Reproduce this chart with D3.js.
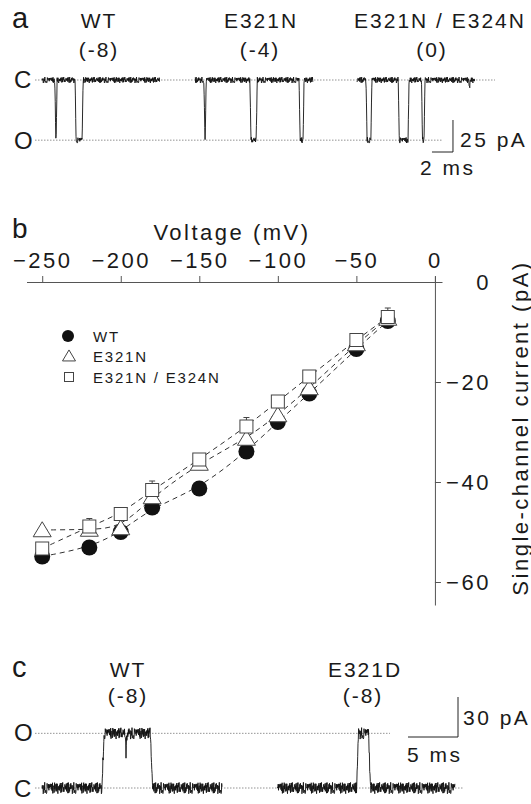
<!DOCTYPE html>
<html><head><meta charset="utf-8">
<script src="https://cdn.jsdelivr.net/npm/d3@7"></script>
<style>
body{margin:0;background:#fff}
svg{display:block}
text{font-family:"Liberation Sans",Arial,sans-serif;fill:#1a1a1a}
</style>
</head><body>
<svg id="fig" width="531" height="804"></svg>
<script>
// ---------- Panel b data ----------
const voltages = [-250,-220,-200,-180,-150,-120,-100,-80,-50,-30];
const wtCurrent = [-54.9,-53.1,-50.0,-45.1,-41.3,-33.9,-28.0,-22.3,-13.4,-7.8];
const e321nCurrent = [-49.6,-49.5,-49.2,-43.0,-36.3,-31.3,-26.6,-21.2,-12.4,-7.3];
const e321nE324nCurrent = [-53.3,-48.9,-46.4,-41.6,-35.5,-28.9,-23.9,-18.9,-11.6,-7.0];
const e321nE324nError = [0,1.6,0,1.8,0,1.8,0,0,0,1.8];
const xTickValues = [-250,-200,-150,-100,-50,0];
const yTickValues = [0,-20,-40,-60];
const seriesNames = ["WT","E321N","E321N / E324N"];

// ---------- Panel a data (times in ms, currents in pA) ----------
const traceATitles = ["WT","E321N","E321N / E324N"];
const traceAVoltages = ["(-8)","(-4)","(0)"];
const traceASpans = [[0,11.2],[14.6,25.8],[30.0,41.2]];
const traceAOpenings = [
  [[1.22,1.44,1],[3.15,3.92,1]],
  [[15.42,15.64,1],[19.8,20.5,1],[24.48,24.96,1]],
  [[30.86,31.42,1],[33.93,34.96,1],[36.14,36.48,1],[40.66,40.78,0.3]]
];
const traceAOpenCurrent = -47;
const scaleBarA = {ms:2, pA:25};

// ---------- Panel c data ----------
const traceCTitles = ["WT","E321D"];
const traceCVoltages = ["(-8)","(-8)"];
const traceCSpans = [[0,18],[23.5,41.3]];
const traceCOpenings = [[[6.0,11.05,1]],[[31.45,32.85,1]]];
const traceCClosings = [[[8.3,8.5,0.72]],[]];
const traceCOpenCurrent = 41;
const scaleBarC = {ms:5, pA:30};

// hand-typed noise texture for the recordings
const noise = [0.42,-0.77,0.15,0.91,-0.33,-0.62,0.58,0.04,-0.95,0.71,-0.18,0.36,-0.54,0.87,-0.09,-0.71,0.26,0.64,-0.41,0.12,-0.88,0.49,0.79,-0.27,-0.06,0.55,-0.66,0.33,-0.98,0.21,0.68,-0.45,0.02,-0.31,0.93,-0.74,0.17,0.46,-0.59,0.83,-0.14,-0.86,0.38,0.07,-0.52,0.74,-0.23,0.61,-0.69,0.29,-0.03,0.89,-0.47,-0.81,0.53,0.11,-0.36,0.66,-0.92,0.24,0.47,-0.12,-0.58,0.97,-0.39,0.08,0.72,-0.64,0.31,-0.19,-0.83,0.57,0.19,-0.49,0.85,-0.28,0.63,-0.72,0.05,0.4,-0.97,0.34,0.76,-0.16,-0.44,0.6,-0.8,0.27,0.13,-0.57,0.81,-0.35,0.5,-0.67,0.22,0.95,-0.25];

const svg = d3.select("#fig");
const FONT = 22, LS = 2.5;

function txt(g, x, y, s, size, ls, anchor){
  return g.append("text").attr("x",x).attr("y",y).text(s)
    .attr("font-size",size).attr("letter-spacing",ls||0)
    .attr("text-anchor",anchor||"start");
}

function fraction(t, events, r){
  let f = 0;
  for (const [s,e,a] of events){
    const v = Math.max(0, Math.min((t-s)/r, (e-t)/r, 1));
    f = Math.max(f, v*a);
  }
  return f;
}

function drawTrace(g, x, y, span, openings, closings, openI, r, noiseAmp, dt, offset){
  const pts = [];
  let k = offset;
  for (let t = span[0]; t <= span[1]; t += dt){
    let f = fraction(t, openings, r);
    if (closings) { let c = fraction(t, closings, r); f = Math.max(0, f - c); }
    const n = noise[k % noise.length]; k += 7;
    pts.push([t, f*openI + n*noiseAmp]);
  }
  g.append("path").datum(pts)
    .attr("d", d3.line().x(d=>x(d[0])).y(d=>y(d[1])))
    .attr("fill","none").attr("stroke","#111").attr("stroke-width",0.9);
}

// =============== Panel a ===============
{
  const g = svg.append("g");
  const x = d3.scaleLinear().domain([0,45]).range([42, 42+45*10.5]);
  const y = d3.scaleLinear().domain([0,-50]).range([80, 80+50*1.28]);
  txt(g, 12, 28, "a", 29);
  const titleX = [99, 261, 440], voltX = [99, 260, 432];
  traceATitles.forEach((s,i)=>{
    txt(g, titleX[i], 28, s, 21, 2, "middle");
    txt(g, voltX[i], 57, traceAVoltages[i], 21, 2, "middle");
  });
  txt(g, 14, 88, "C", 24);
  txt(g, 14, 149, "O", 24);
  g.append("line").attr("x1",35).attr("x2",495).attr("y1",y(0)).attr("y2",y(0))
    .attr("stroke","#777").attr("stroke-width",0.8).attr("stroke-dasharray","1.5,1.5");
  g.append("line").attr("x1",35).attr("x2",443).attr("y1",y(traceAOpenCurrent)).attr("y2",y(traceAOpenCurrent))
    .attr("stroke","#777").attr("stroke-width",0.8).attr("stroke-dasharray","1.5,1.5");
  traceASpans.forEach((sp,i)=>{
    drawTrace(g, x, y, sp, traceAOpenings[i], null, traceAOpenCurrent, 0.1, 2.4, 0.03, i*13);
  });
  // scale bar
  const t1 = 39.14, t0 = t1 - scaleBarA.ms, i0 = -56.25, i1 = i0 + scaleBarA.pA;
  g.append("path").attr("d", `M${x(t0)},${y(i0)}H${x(t1)}V${y(i1)}`)
    .attr("fill","none").attr("stroke","#222").attr("stroke-width",1);
  txt(g, 460, 147, scaleBarA.pA + " pA", 21, 2.5);
  txt(g, 420, 175, scaleBarA.ms + " ms", 21, 2.5);
}

// =============== Panel b ===============
{
  const g = svg.append("g");
  const x = d3.scaleLinear().domain([-260, 4.5]).range([26.5, 442]);
  const y = d3.scaleLinear().domain([1.2, -64.6]).range([276, 605]);
  const axisCol = "#555";
  txt(g, 12, 238, "b", 28);
  txt(g, 232, 240, "Voltage (mV)", FONT, LS, "middle");

  const xa = g.append("g").attr("transform",`translate(0,${y(0)})`)
    .call(d3.axisTop(x).tickValues(xTickValues).tickSize(6).tickSizeOuter(0).tickFormat(d3.format("d")));
  xa.select(".domain").attr("stroke",axisCol);
  xa.selectAll(".tick line").attr("stroke",axisCol);
  xa.selectAll(".tick text").attr("font-size",FONT).attr("letter-spacing",LS)
    .attr("font-family",'"Liberation Sans",Arial,sans-serif').attr("fill","#1a1a1a")
    .attr("y",-14).attr("dy",0);

  const ya = g.append("g").attr("transform",`translate(${x(0)},0)`)
    .call(d3.axisRight(y).tickValues(yTickValues).tickSize(6).tickSizeOuter(0).tickFormat(d3.format("d")));
  ya.select(".domain").attr("stroke",axisCol);
  ya.selectAll(".tick line").attr("stroke",axisCol);
  ya.selectAll(".tick text").attr("font-size",FONT).attr("letter-spacing",LS)
    .attr("font-family",'"Liberation Sans",Arial,sans-serif').attr("fill","#1a1a1a")
    .attr("text-anchor","end").attr("x",56).attr("dy","0.35em");

  g.append("text").attr("transform","translate(520,428) rotate(-90)")
    .attr("text-anchor","middle").attr("dominant-baseline","central")
    .attr("font-size",FONT).attr("letter-spacing",LS).text("Single-channel current (pA)");

  const series = [wtCurrent, e321nCurrent, e321nE324nCurrent];
  const line = d3.line().x(d=>x(d[0])).y(d=>y(d[1])).curve(d3.curveBasis);
  series.forEach(s=>{
    g.append("path").datum(voltages.map((v,i)=>[v,s[i]]))
      .attr("d",line).attr("fill","none").attr("stroke","#333")
      .attr("stroke-width",1).attr("stroke-dasharray","5,4");
  });

  voltages.forEach((v,i)=>{
    const e = e321nE324nError[i]; if(!e) return;
    const yy = y(e321nE324nCurrent[i]+e);
    g.append("path").attr("d",`M${x(v)},${y(e321nE324nCurrent[i])}V${yy}M${x(v)-3},${yy}H${x(v)+3}`)
      .attr("stroke","#444").attr("stroke-width",1).attr("fill","none");
  });

  const tri = (cx,cy,w,h)=>`M${cx},${cy-h*0.55}L${cx+w/2},${cy+h*0.45}L${cx-w/2},${cy+h*0.45}Z`;
  voltages.forEach((v,i)=>{
    g.append("circle").attr("cx",x(v)).attr("cy",y(wtCurrent[i])).attr("r",8).attr("fill","#111");
  });
  voltages.forEach((v,i)=>{
    g.append("path").attr("d",tri(x(v),y(e321nCurrent[i]),18,15))
      .attr("fill","#fff").attr("stroke","#444").attr("stroke-width",1);
  });
  voltages.forEach((v,i)=>{
    g.append("rect").attr("x",x(v)-6.5).attr("y",y(e321nE324nCurrent[i])-6.5)
      .attr("width",13).attr("height",13).attr("fill","#fff").attr("stroke","#444").attr("stroke-width",1);
  });

  const ly = [336,356,377];
  g.append("circle").attr("cx",68).attr("cy",ly[0]).attr("r",6).attr("fill","#111");
  g.append("path").attr("d",tri(69,ly[1],13,11)).attr("fill","#fff").attr("stroke","#444");
  g.append("rect").attr("x",64.5).attr("y",ly[2]-4.5).attr("width",9).attr("height",9)
    .attr("fill","#fff").attr("stroke","#444");
  seriesNames.forEach((s,i)=>{
    txt(g, 93, ly[i]+5.5, s, 15, 1.8);
  });
}

// =============== Panel c ===============
{
  const g = svg.append("g");
  const x = d3.scaleLinear().domain([0,45]).range([42, 42+450]);
  const y = d3.scaleLinear().domain([0,60]).range([788, 788-60*1.3333]);
  txt(g, 12, 677, "c", 29);
  const titleX = [128, 365], voltX = [128, 363];
  traceCTitles.forEach((s,i)=>{
    txt(g, titleX[i], 677, s, 21, 2, "middle");
    txt(g, voltX[i], 703, traceCVoltages[i], 21, 2, "middle");
  });
  txt(g, 14, 741, "O", 24);
  txt(g, 14, 797, "C", 24);
  g.append("line").attr("x1",35).attr("x2",390).attr("y1",y(traceCOpenCurrent)).attr("y2",y(traceCOpenCurrent))
    .attr("stroke","#777").attr("stroke-width",0.8).attr("stroke-dasharray","1.5,1.5");
  g.append("line").attr("x1",35).attr("x2",463).attr("y1",y(0)).attr("y2",y(0))
    .attr("stroke","#777").attr("stroke-width",0.8).attr("stroke-dasharray","1.5,1.5");
  traceCSpans.forEach((sp,i)=>{
    drawTrace(g, x, y, sp, traceCOpenings[i], traceCClosings[i], traceCOpenCurrent, 0.2, 4.4, 0.03, i*29);
  });
  const t1 = 41.6, t0 = t1 - scaleBarC.ms, i0 = 38.25, i1 = i0 + scaleBarC.pA;
  g.append("path").attr("d", `M${x(t0)},${y(i0)}H${x(t1)}V${y(i1)}`)
    .attr("fill","none").attr("stroke","#222").attr("stroke-width",1);
  txt(g, 463, 725, scaleBarC.pA + " pA", 21, 2.5);
  txt(g, 407, 762, scaleBarC.ms + " ms", 21, 2.5);
}
</script>
</body></html>
